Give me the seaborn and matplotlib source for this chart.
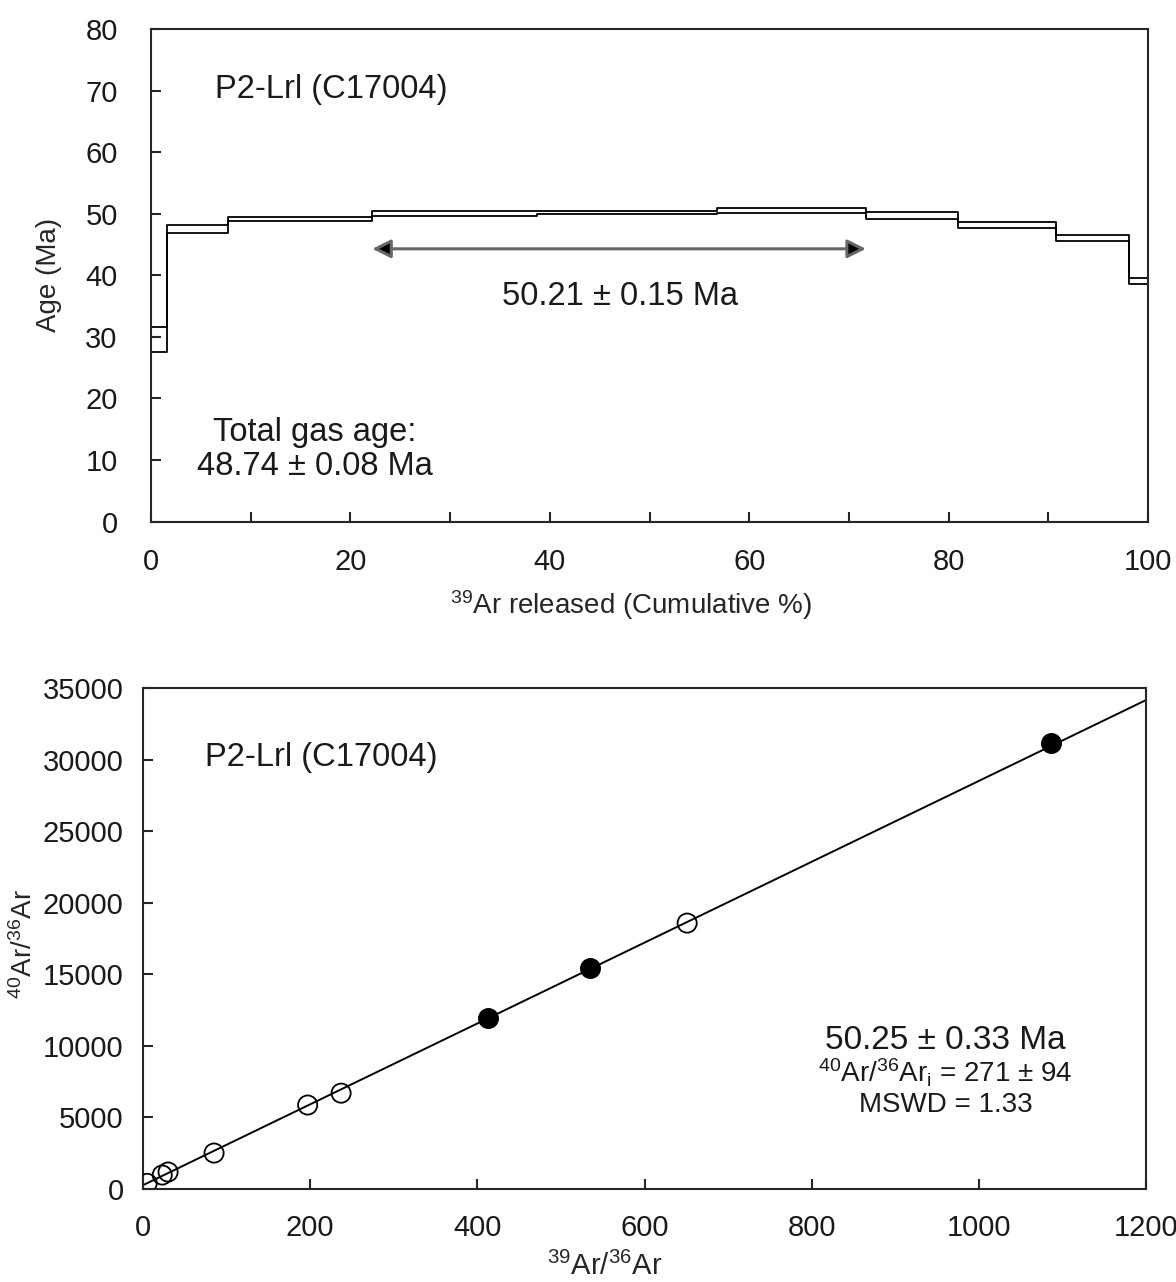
import numpy as np
import pandas as pd
import matplotlib
matplotlib.use('Agg')
import matplotlib.pyplot as plt
import seaborn as sns

# ---------------------------------------------------------
# Data
# ---------------------------------------------------------
# Age spectrum: cumulative 39Ar step boundaries (%) and 1-sigma age box per step (Ma)
cum_pct = [0, 1.6, 7.7, 22.2, 38.7, 56.8, 71.7, 80.9, 90.8, 98.1, 100]
age_hi = [31.6, 48.2, 49.5, 50.4, 50.4, 50.9, 50.3, 48.6, 46.5, 39.6]
age_lo = [27.5, 46.9, 48.8, 49.6, 50.0, 50.1, 49.1, 47.7, 45.5, 38.6]
plateau_first, plateau_last = 3, 5  # steps that define the plateau

# Isochron: 39Ar/36Ar vs 40Ar/36Ar
open_x = [5, 23, 30, 85, 197, 237, 651]
open_y = [400, 980, 1190, 2515, 5870, 6700, 18580]
fill_x = [413, 535, 1086]
fill_y = [11950, 15440, 31160]
iso_x = [0, 1200]
iso_y = [271, 34160]

SAMPLE = "P2-Lrl (C17004)"

# ---------------------------------------------------------
# Style
# ---------------------------------------------------------
sns.set_style('ticks')
plt.rcParams['font.family'] = ['Liberation Sans', 'DejaVu Sans']
plt.rcParams['mathtext.fontset'] = 'custom'
plt.rcParams['mathtext.rm'] = 'Liberation Sans'
plt.rcParams['mathtext.it'] = 'Liberation Sans:italic'
plt.rcParams['mathtext.bf'] = 'Liberation Sans:bold'
plt.rcParams['axes.linewidth'] = 1.5
plt.rcParams['text.color'] = '#1a1a1a'
plt.rcParams['xtick.labelcolor'] = '#1a1a1a'
plt.rcParams['ytick.labelcolor'] = '#1a1a1a'

fig = plt.figure(figsize=(11.76, 12.82), dpi=100)
ax1 = fig.add_axes([0.1284, 0.5931, 0.8478, 0.3843])
ax2 = fig.add_axes([0.1216, 0.0725, 0.8529, 0.3908])

# ---------------------------------------------------------
# Top: age spectrum
# ---------------------------------------------------------
spec = pd.DataFrame({
    'pct': cum_pct,
    'hi': age_hi + [age_hi[-1]],
    'lo': age_lo + [age_lo[-1]],
})
for col in ['hi', 'lo']:
    sns.lineplot(data=spec, x='pct', y=col, ax=ax1, color='black', lw=1.3,
                 drawstyle='steps-post', estimator=None, sort=False)

ax1.set_xlim(0, 100)
ax1.set_ylim(0, 80)
ax1.set_xticks(np.arange(0, 101, 20))
ax1.set_xticks(np.arange(10, 100, 20), minor=True)
ax1.set_yticks(np.arange(0, 81, 10))
ax1.tick_params(which='both', direction='in', length=7, width=1.5)
ax1.tick_params(axis='x', which='both', pad=19, labelsize=21)
ax1.tick_params(axis='y', pad=24, labelsize=21)
for s in ['top', 'right']:
    ax1.spines[s].set_visible(True)
ax1.set_xlabel(r'$^{39}$Ar released (Cumulative %)', fontsize=20)
ax1.set_ylabel('Age (Ma)', fontsize=20)
ax1.xaxis.set_label_coords(0.482, -0.135)
ax1.yaxis.set_label_coords(-0.089, 0.5)

# plateau arrow
ax1.annotate('', xy=(cum_pct[plateau_first], 44.3), xytext=(cum_pct[plateau_last + 1], 44.3),
             arrowprops=dict(arrowstyle='<|-|>', ec='0.4', fc='black', lw=2.2,
                             mutation_scale=28, shrinkA=0, shrinkB=0))
ax1.text(47.0, 36.5, '50.21 ± 0.15 Ma', ha='center', va='center', fontsize=23.5)
ax1.text(6.4, 70.1, SAMPLE, ha='left', va='center', fontsize=23.5)
ax1.text(16.4, 14.4, 'Total gas age:', ha='center', va='center', fontsize=23.5)
ax1.text(16.4, 9.0, '48.74 ± 0.08 Ma', ha='center', va='center', fontsize=23.5)

# ---------------------------------------------------------
# Bottom: isochron
# ---------------------------------------------------------
sns.lineplot(x=iso_x, y=iso_y, ax=ax2, color='black', lw=1.4)
sns.scatterplot(x=open_x, y=open_y, ax=ax2, s=190, facecolor='none',
                edgecolor='black', linewidth=1.3, zorder=3)
sns.scatterplot(x=fill_x, y=fill_y, ax=ax2, s=190, color='black',
                edgecolor='black', linewidth=1.3, zorder=3)

ax2.set_xlim(0, 1200)
ax2.set_ylim(0, 35000)
ax2.set_xticks(np.arange(0, 1201, 200))
ax2.set_yticks(np.arange(0, 35001, 5000))
ax2.tick_params(direction='in', length=7, width=1.5, labelsize=21)
ax2.tick_params(axis='x', pad=18)
ax2.tick_params(axis='y', pad=14)
for s in ['top', 'right']:
    ax2.spines[s].set_visible(True)
ax2.set_xlabel(r'$^{39}$Ar/$^{36}$Ar', fontsize=21)
ax2.set_ylabel(r'$^{40}$Ar/$^{36}$Ar', fontsize=20)
ax2.xaxis.set_label_coords(0.46, -0.125)
ax2.yaxis.set_label_coords(-0.105, 0.49)

ax2.text(74, 30180, SAMPLE, ha='left', va='center', fontsize=23.5)
ax2.text(960, 10410, '50.25 ± 0.33 Ma', ha='center', va='center', fontsize=24)
ax2.text(960, 8100, r'$^{40}$Ar/$^{36}$Ar$_{\mathrm{i}}$ = 271 ± 94', ha='center', va='center', fontsize=20)
ax2.text(960, 5870, 'MSWD = 1.33', ha='center', va='center', fontsize=20)

fig.savefig('out.png', dpi=100)
plt.close(fig)
